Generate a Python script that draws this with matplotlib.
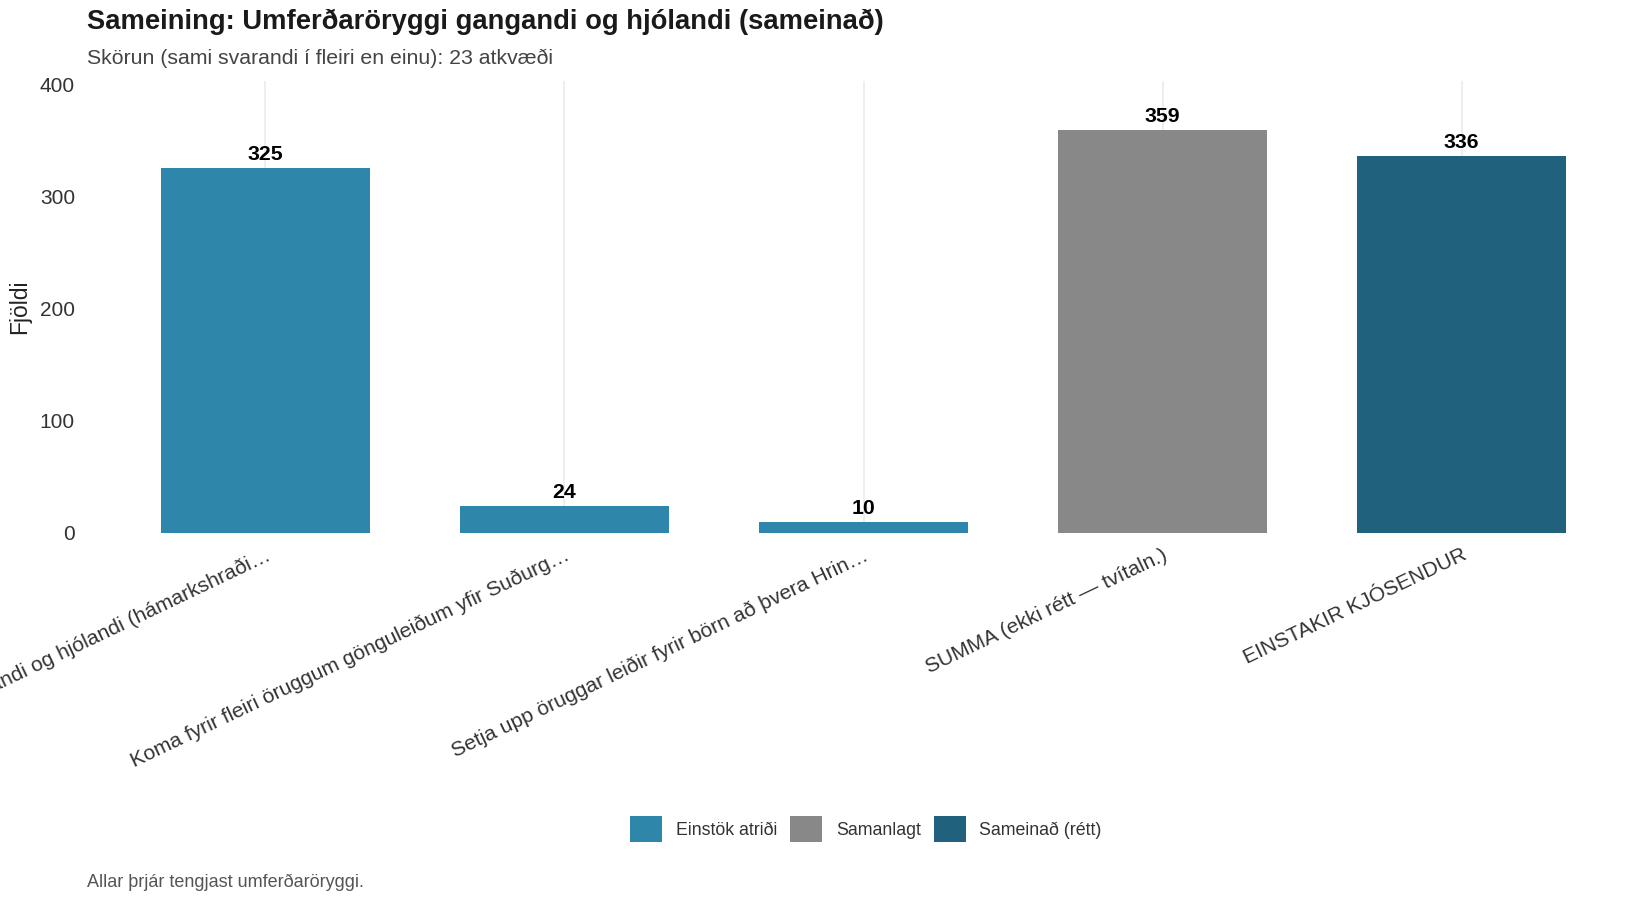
import matplotlib
matplotlib.use("Agg")
import matplotlib.pyplot as plt
from matplotlib.patches import Patch

plt.rcParams['font.family'] = ['Liberation Sans', 'DejaVu Sans']

categories = [
    "Umferðaröryggi gangandi og hjólandi (hámarkshraði…",
    "Koma fyrir fleiri öruggum gönguleiðum yfir Suðurg…",
    "Setja upp öruggar leiðir fyrir börn að þvera Hrin…",
    "SUMMA (ekki rétt — tvítaln.)",
    "EINSTAKIR KJÓSENDUR",
]
values = [325, 24, 10, 359, 336]
groups = ["Einstök atriði", "Einstök atriði", "Einstök atriði", "Samanlagt", "Sameinað (rétt)"]
group_order = ["Einstök atriði", "Samanlagt", "Sameinað (rétt)"]
group_colors = {"Einstök atriði": "#2E86AB", "Samanlagt": "#888888", "Sameinað (rétt)": "#20627D"}
y_ticks = [0, 100, 200, 300, 400]

title = "Sameining: Umferðaröryggi gangandi og hjólandi (sameinað)"
subtitle = "Skörun (sami svarandi í fleiri en einu): 23 atkvæði"
caption = "Allar þrjár tengjast umferðaröryggi."
ylabel = "Fjöldi"

W, H = 1650, 900
fig = plt.figure(figsize=(W / 100, H / 100), dpi=100)
ax = fig.add_axes([86 / W, 1 - 533 / H, (1641 - 86) / W, (533 - 81) / H])

x = list(range(len(categories)))
colors = [group_colors[g] for g in groups]
bars = ax.bar(x, values, width=0.7, color=colors, zorder=2)

for xi, v in zip(x, values):
    ax.annotate(str(v), (xi, v), xytext=(0, 3), textcoords="offset points",
                ha="center", va="bottom", fontsize=15.3, fontweight="bold", color="black")

ax.set_xlim(-0.6, len(categories) - 0.4)
ax.set_ylim(0, 402.7)
ax.set_yticks(y_ticks)
ax.set_xticks(x)
ax.set_xticklabels(categories, rotation=25.5, ha="right", va="top", rotation_mode="anchor")
ax.tick_params(axis="both", length=0, labelcolor="#333333")
ax.tick_params(axis="y", pad=8, labelsize=15)
ax.tick_params(axis="x", pad=9, labelsize=15.1)
ax.grid(axis="x", color="#EBEBEB", linewidth=1.2, zorder=0)
ax.grid(axis="y", visible=False)
for s in ax.spines.values():
    s.set_visible(False)
ax.set_ylabel(ylabel, fontsize=16.5, color="#222222", va="center")
ax.yaxis.set_label_coords((20 - 86) / (1641 - 86), 0.5)

fig.text(87 / W, 1 - 22 / H, title, fontsize=19.7, fontweight="bold", ha="left", va="center", color="#1a1a1a")
fig.text(87 / W, 1 - 58 / H, subtitle, fontsize=15.3, ha="left", va="center", color="#444444")
fig.text(87 / W, 1 - 882 / H, caption, fontsize=13, ha="left", va="center", color="#555555")

handles = [Patch(facecolor=group_colors[g], edgecolor="none", label=g) for g in group_order]
fig.legend(handles=handles, loc="center", bbox_to_anchor=(866 / W, 1 - 829 / H), ncol=3,
           frameon=False, fontsize=12.8, handlelength=1.8, handleheight=1.8,
           handletextpad=0.75, columnspacing=0.75, labelcolor="#333333")

fig.savefig("out.png", dpi=100, facecolor="white")
